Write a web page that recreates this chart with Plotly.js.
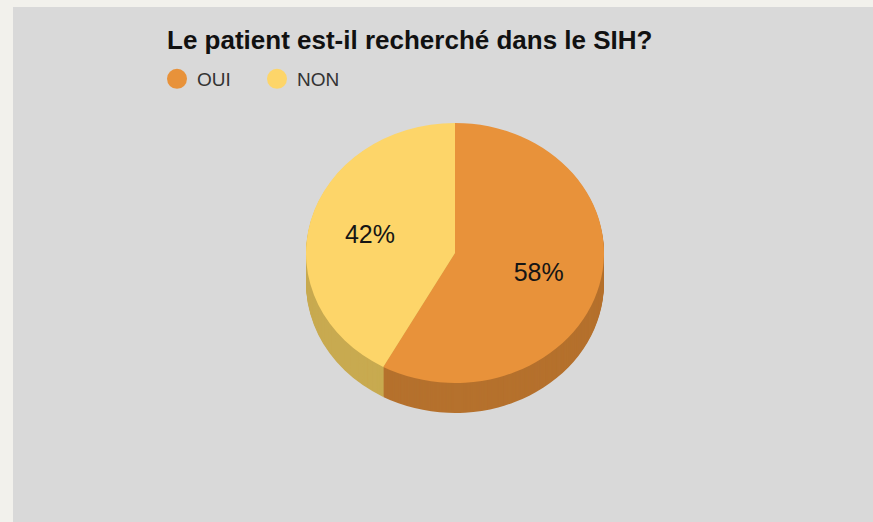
<!DOCTYPE html>
<html><head><meta charset="utf-8">
<script src="https://cdn.plot.ly/plotly-3.0.1.min.js"></script>
<style>html,body{margin:0;padding:0;background:#f2f1ec;} #chart{width:873px;height:522px;}</style>
</head><body><div id="chart"></div>
<script>
// ---- data ----
const labels = ['OUI', 'NON'];
const values = [58, 42];
const titleText = 'Le patient est-il recherché dans le SIH?';

// ---- style ----
const topColors = ['#e8923a', '#fdd569'];
const sideColors = ['#b5712d', '#c8aa50'];
const W = 873, H = 522;
const cx = 455, cy = 253, r = 149, depth = 30, squash = 130 / 149;
const labelSpread = 1.16;

function domainFor(off) {
  return {
    x: [(cx - r) / W, (cx + r) / W],
    y: [1 - (cy + off + r) / H, 1 - (cy + off - r) / H]
  };
}

const traces = [];
for (let off = depth; off >= 1; off--) {
  traces.push({
    type: 'pie', labels: labels, values: values, sort: false,
    direction: 'clockwise', rotation: 0, domain: domainFor(off),
    marker: {colors: sideColors, line: {width: 0}},
    textinfo: 'none', hoverinfo: 'skip', showlegend: false
  });
}
traces.push({
  type: 'pie', labels: labels, values: values, sort: false,
  direction: 'clockwise', rotation: 0, domain: domainFor(0),
  marker: {colors: topColors, line: {width: 0}},
  textinfo: 'percent', textposition: 'inside', insidetextorientation: 'horizontal',
  insidetextfont: {family: 'Liberation Sans, Arial, sans-serif', size: 25, color: '#151515'},
  hoverinfo: 'skip', showlegend: true
});

const layout = {
  width: W, height: H,
  margin: {l: 0, r: 0, t: 0, b: 0},
  paper_bgcolor: '#f2f1ec',
  font: {family: 'Liberation Sans, Arial, sans-serif'},
  title: {
    text: titleText, xref: 'container', yref: 'container',
    x: 167 / W, xanchor: 'left', y: 1 - 40 / H, yanchor: 'middle',
    font: {family: 'Liberation Sans, Arial, sans-serif', size: 26, color: '#111111', weight: 'bold'}
  },
  showlegend: true,
  legend: {
    orientation: 'h', x: 157 / W, xanchor: 'left', y: 1 - 79 / H, yanchor: 'middle',
    font: {family: 'Liberation Sans, Arial, sans-serif', size: 19, color: '#333333'},
    bgcolor: 'rgba(0,0,0,0)', entrywidth: 55, traceorder: 'normal'
  },
  shapes: [{
    type: 'rect', xref: 'paper', yref: 'paper', layer: 'below',
    x0: 13 / W, x1: 1, y0: 0, y1: 1 - 7 / H,
    fillcolor: '#d9d9d9', line: {width: 0}
  }]
};

Plotly.newPlot('chart', traces, layout, {staticPlot: true, displayModeBar: false}).then(function (gd) {
  const groups = gd.querySelectorAll('.pielayer .trace');
  groups.forEach(function (g, i) {
    const c = gd.calcdata[i][0];
    const ccx = c.cx, ccy = c.cy;
    g.querySelectorAll('path.surface').forEach(function (p) {
      p.setAttribute('transform', 'translate(0,' + (ccy * (1 - squash)) + ') scale(1,' + squash + ')');
    });
    g.querySelectorAll('g.slicetext text').forEach(function (t) {
      const tr = t.getAttribute('transform') || '';
      const m = tr.match(/translate\(\s*([-\d.e]+)[ ,]+([-\d.e]+)\s*\)/);
      if (m) {
        const nx = ccx + (parseFloat(m[1]) - ccx) * labelSpread;
        t.setAttribute('transform', tr.replace(m[0], 'translate(' + nx + ',' + m[2] + ')'));
      }
    });
  });
  gd.querySelectorAll('.legend path.legendpie').forEach(function (p) {
    p.setAttribute('d', 'M10,0A10,10 0 1,1 0,-10A10,10 0 0,1 10,0Z');
  });
});
</script>
</body></html>
